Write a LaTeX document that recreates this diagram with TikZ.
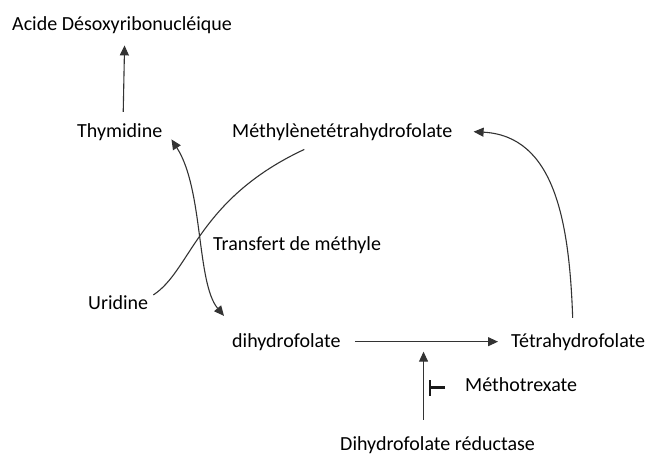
\documentclass[tikz,border=0pt]{standalone}
\usepackage{fontspec}
\setmainfont{Carlito}
\usepackage{tikz}
\usetikzlibrary{positioning,arrows.meta}
\tikzset{
  >={Triangle[length=10pt,width=9pt]},
  lbl/.style   ={inner sep=0pt, anchor=base west, font=\fontsize{20}{24}\selectfont},
  flow/.style  ={line width=1.1pt, draw=black!80, ->},
  duo/.style   ={line width=1.1pt, draw=black!80, <->},
  bare/.style  ={line width=1.1pt, draw=black!80},
  inhib/.style ={line width=2.4pt, draw=black!90, -{Bar[width=16pt]}},
}

\begin{document}
\begin{tikzpicture}[x=1pt, y=-1pt]
  \useasboundingbox (0,0) rectangle (648,455);

  % ---------- Labels ----------
  \node[lbl] (adn)  at (12,30)   {Acide Désoxyribonucléique};
  \node[lbl] (thy)  at (77,137)  {Thymidine};
  \node[lbl] (meth) at (232,137) {Méthylènetétrahydrofolate};
  \node[lbl] (trans) at (213,250) {Transfert de méthyle};
  \node[lbl] (uri)  at (88,309)  {Uridine};
  \node[lbl] (dhf)  at (232,347) {dihydrofolate};
  \node[lbl] (thf)  at (511,347) {Tétrahydrofolate};
  \node[lbl] (mtx)  at (465,391) {Méthotrexate};
  \node[lbl] (dhr)  at (340,450) {Dihydrofolate réductase};

  % thymidine goes into DNA
  \draw[flow] ([shift={(3.5pt,11pt)}]thy.north) -- ([shift={(2.5pt,-12pt)}]adn.south);

  % ---------- Methyl transfer (crossing curves) ----------
  \draw[duo] ([shift={(9pt,1pt)}]thy.south east)
     to[out=-57, in=130, out distance=59pt, in distance=43pt]
     ([shift={(-8pt,17pt)}]dhf.north west);
  \draw[bare] ([xshift=5pt]uri.north east)
     to[out=33, in=205, out distance=45pt, in distance=118pt]
     ([shift={(-38pt,-9pt)}]meth.south);

  % ---------- Reduction ----------
  \draw[flow] ([xshift=14pt]dhf.east) -- ([xshift=-13pt]thf.west |- dhf.east)
     coordinate[pos=0.48] (hit);
  \draw[flow] ([yshift=16pt]dhr.north -| hit) -- ([yshift=-10pt]hit);
  \draw[inhib] ([shift={(-20pt,-3.5pt)}]mtx.west) -- ++(-16pt,0pt); % blocked by methotrexate

  % back to the methylene form
  \draw[flow] ([shift={(-5.5pt,15pt)}]thf.north)
     to[out=92, in=-3, out distance=97pt, in distance=81pt]
     ([xshift=21pt]meth.east);
\end{tikzpicture}
\end{document}
